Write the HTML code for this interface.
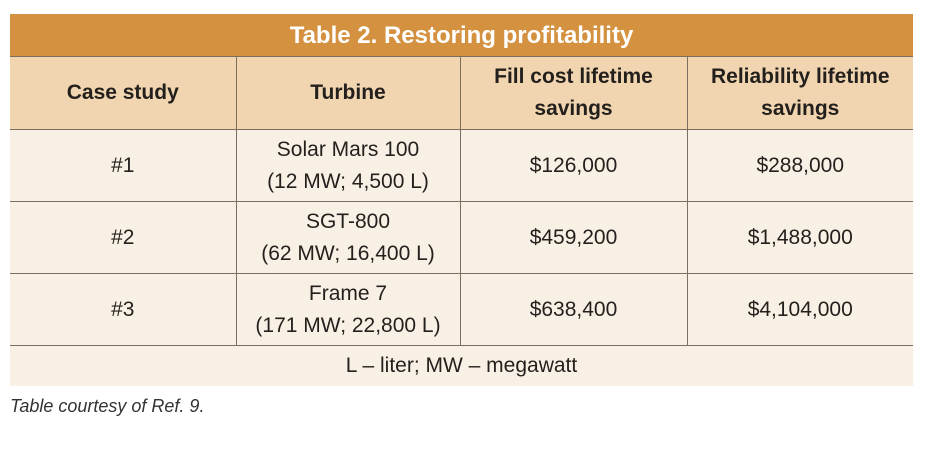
<!DOCTYPE html>
<html><head><meta charset="utf-8"><style>
body{margin:0;width:926px;height:450px;background:#fff;position:relative;overflow:hidden;font-family:"Liberation Sans Narrow","Liberation Sans",sans-serif;color:#231f1c}
.title{position:absolute;left:10px;top:14px;width:903px;height:42px;background:#d4913f;color:#fff;font-weight:bold;font-size:24px;text-align:center;line-height:44px}
table{position:absolute;left:10px;top:56px;width:903px;border-collapse:collapse;font-size:21px}
td,th{border:1px solid #7d6e60;text-align:center;padding:0;line-height:32px}
tr>*:first-child{border-left:none}tr>*:last-child{border-right:none}
th{background:#f0d5b0;height:72px;font-weight:bold;font-size:21px}
td{background:#f8f0e4;height:71px}
tr.ft td{height:40px;border-bottom:none}
.cap{position:absolute;left:10px;top:396px;font-style:italic;font-size:18px;font-family:"Liberation Sans",sans-serif;color:#333}
</style></head><body>
<div class="title">Table 2. Restoring profitability</div>
<table>
<colgroup><col style="width:226px"><col style="width:224px"><col style="width:227px"><col style="width:226px"></colgroup>
<tr><th>Case study</th><th>Turbine</th><th>Fill cost lifetime<br>savings</th><th>Reliability lifetime<br>savings</th></tr>
<tr><td>#1</td><td>Solar Mars 100<br>(12 MW; 4,500 L)</td><td>$126,000</td><td>$288,000</td></tr>
<tr><td>#2</td><td>SGT-800<br>(62 MW; 16,400 L)</td><td>$459,200</td><td>$1,488,000</td></tr>
<tr><td>#3</td><td>Frame 7<br>(171 MW; 22,800 L)</td><td>$638,400</td><td>$4,104,000</td></tr>
<tr class="ft"><td colspan="4">L – liter; MW – megawatt</td></tr>
</table>
<div class="cap">Table courtesy of Ref. 9.</div>
</body></html>
